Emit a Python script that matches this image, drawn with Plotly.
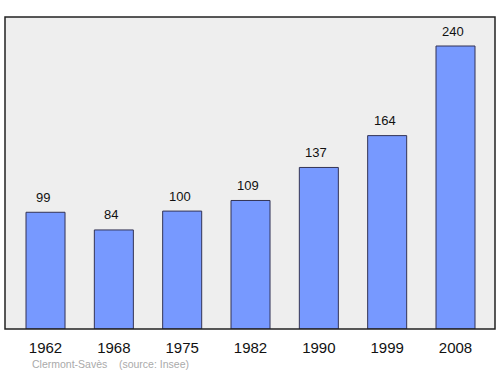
import plotly.graph_objects as go

years = ["1962", "1968", "1975", "1982", "1990", "1999", "2008"]
population = [99, 84, 100, 109, 137, 164, 240]
source_text = "Clermont-Savès    (source: Insee)"

fig = go.Figure()
fig.add_trace(go.Bar(
    x=list(range(len(years))), y=population, width=0.571,
    marker=dict(color="#7799ff", line=dict(color="#333355", width=1)),
    hoverinfo="skip",
))
for i, v in enumerate(population):
    fig.add_annotation(x=i, y=v, text=str(v), showarrow=False, yshift=15, xshift=-2.5,
                       font=dict(size=13, color="#111111", family="Liberation Sans, Arial, sans-serif"))
fig.add_annotation(xref="paper", yref="paper", x=0.052, y=-0.113, xanchor="left", yanchor="middle",
                   text=source_text.replace("    ", "&nbsp;&nbsp;&nbsp;&nbsp;"), showarrow=False,
                   font=dict(size=10.5, color="#aaaaaa", family="Liberation Sans, Arial, sans-serif"))
fig.add_shape(type="rect", xref="paper", yref="paper", x0=0, y0=0, x1=1, y1=1,
              line=dict(color="#222222", width=1.5), fillcolor="rgba(0,0,0,0)")
fig.update_layout(
    width=500, height=374, margin=dict(l=5, r=5, t=17, b=45),
    paper_bgcolor="white", plot_bgcolor="#eeeeee", showlegend=False,
    xaxis=dict(range=[-0.593, 6.578], tickmode="array", tickvals=list(range(len(years))),
               ticktext=years, showgrid=False, zeroline=False, ticks="", ticklabelstandoff=8,
               tickfont=dict(size=15, color="#111111", family="Liberation Sans, Arial, sans-serif")),
    yaxis=dict(range=[0, 264.6], showgrid=False, zeroline=False, showticklabels=False, ticks=""),
)
fig.write_html("out.html")
